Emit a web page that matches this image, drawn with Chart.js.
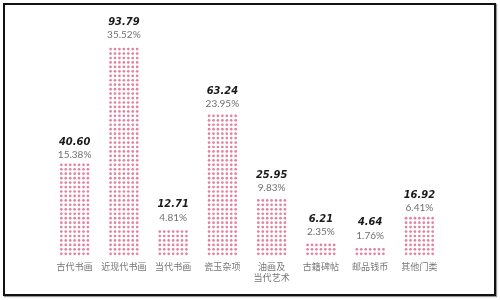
<!DOCTYPE html>
<html>
<head>
<meta charset="utf-8">
<script src="https://cdn.jsdelivr.net/npm/chart.js@4"></script>
<style>
  html, body { margin: 0; padding: 0; background: #fff; }
  #wrap { position: relative; width: 500px; height: 300px; }
  #frame {
    position: absolute; left: 3px; top: 3px; width: 489px; height: 289px;
    border: 2px solid #111; box-shadow: 1px 1px 1px #999; pointer-events: none;
  }
</style>
</head>
<body>
<div id="wrap">
  <canvas id="c" width="500" height="300"></canvas>
  <div id="frame"></div>
</div>
<script>
// 数据
const categories = ['古代书画', '近现代书画', '当代书画', '瓷玉杂项', ['油画及', '当代艺术'], '古籍碑帖', '邮品钱币', '其他门类'];
const values = [40.60, 93.79, 12.71, 63.24, 25.95, 6.21, 4.64, 16.92];
const shares = ['15.38%', '35.52%', '4.81%', '23.95%', '9.83%', '2.35%', '1.76%', '6.41%'];

// dotted bars: fill each bar rect with a grid of pink dots
const dotBars = {
  id: 'dotBars',
  afterDatasetsDraw(chart) {
    const ctx = chart.ctx;
    const meta = chart.getDatasetMeta(0);
    ctx.save();
    meta.data.forEach(bar => {
      const cols = 7;
      const w = bar.width;
      const left = bar.x - w / 2;
      const sx = w / cols;
      const sy = 4.45;
      ctx.fillStyle = '#e3829f';
      for (let yy = bar.base - sy / 2; yy >= bar.y; yy -= sy) {
        for (let i = 0; i < cols; i++) {
          ctx.beginPath();
          ctx.arc(left + sx * (i + 0.5), yy, 1.35, 0, Math.PI * 2);
          ctx.fill();
        }
      }
    });
    ctx.restore();
  }
};

// value + share labels over each bar
const topLabels = {
  id: 'topLabels',
  afterDatasetsDraw(chart) {
    const ctx = chart.ctx;
    const meta = chart.getDatasetMeta(0);
    ctx.save();
    ctx.textAlign = 'center';
    ctx.textBaseline = 'middle';
    meta.data.forEach((bar, i) => {
      ctx.fillStyle = '#1a1a1a';
      ctx.font = 'italic bold 11px "DejaVu Sans Condensed", "DejaVu Sans"';
      ctx.fillText(values[i].toFixed(2), bar.x, bar.y - 23);
      ctx.fillStyle = '#707070';
      ctx.font = '10px Lato';
      ctx.fillText(shares[i], bar.x, bar.y - 10);
    });
    ctx.restore();
  }
};

new Chart(document.getElementById('c'), {
  type: 'bar',
  data: {
    labels: categories,
    datasets: [{
      data: values,
      backgroundColor: 'rgba(0,0,0,0)',
      categoryPercentage: 1,
      barPercentage: 0.63
    }]
  },
  options: {
    responsive: false,
    animation: false,
    layout: { padding: { top: 20, left: 50, right: 56, bottom: 0 } },
    plugins: { legend: { display: false }, tooltip: { enabled: false } },
    scales: {
      x: {
        grid: { display: false, drawTicks: false },
        border: { display: false },
        ticks: {
          color: '#777',
          padding: 5,
          maxRotation: 0,
          autoSkip: false,
          font: { family: '"Noto Sans CJK SC"', size: 9, lineHeight: 1.2 }
        },
        afterFit: s => { s.height = 44; }
      },
      y: { display: false, min: 0, max: 105 }
    }
  },
  plugins: [dotBars, topLabels]
});
</script>
</body>
</html>
